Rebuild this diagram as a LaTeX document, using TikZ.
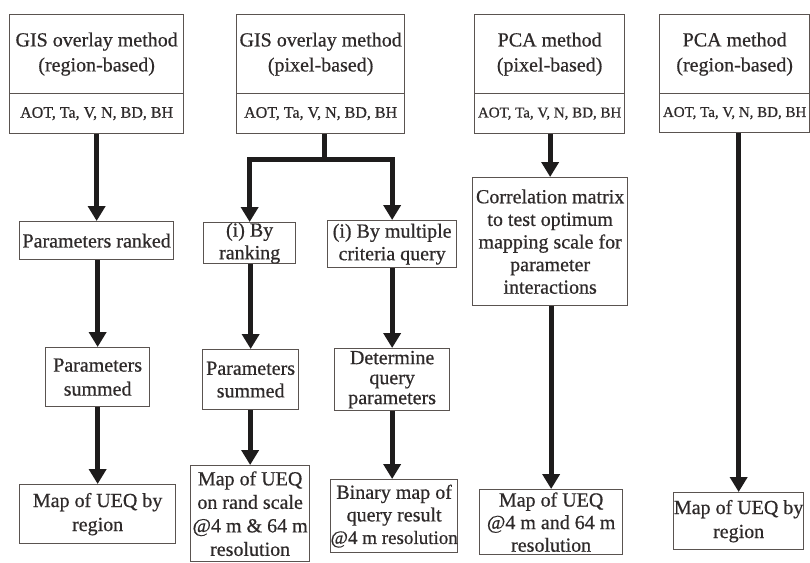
\documentclass[tikz,border=0pt]{standalone}
\usepackage{fontspec}
\setmainfont{Liberation Serif}[FakeBold=0.6]
\usetikzlibrary{arrows.meta}
\definecolor{boxc}{HTML}{5A5350}
\definecolor{txtc}{HTML}{2E2A2A}
\definecolor{arrc}{HTML}{1E1C1C}
\tikzset{
  bx/.style n args={4}{draw=boxc, line width=1.3pt, rectangle, inner sep=0pt,
    minimum width=#3pt-#1pt, minimum height=#4pt-#2pt, anchor=north west},
  lbl/.style={inner sep=0pt, align=center, text=txtc},
  ttl/.style={lbl, font=\fontsize{20}{25}\selectfont},
  bod/.style={lbl, font=\fontsize{20}{24}\selectfont},
  bodt/.style={lbl, font=\fontsize{20}{22.6}\selectfont},
  par/.style={lbl, font=\fontsize{16}{18}\selectfont},
  pars/.style={lbl, font=\fontsize{15}{18}\selectfont},
  lnk/.style={draw=arrc, line width=5pt},
  arr/.style={lnk, -{Triangle[width=17pt,length=15pt]}},
}
\begin{document}
\begin{tikzpicture}[x=1pt,y=-1pt]
\useasboundingbox (0,0) rectangle (810,562);
% column 1
\node[bx={9}{14}{183}{93}] (t1a) at (9,14) {};
\node[ttl] (t1a-t) at (t1a.center) {GIS overlay method\\(region-based)};
\node[bx={9}{93}{183}{133}] (t1b) at (9,93) {};
\node[par] (t1b-t) at (t1b.center) {AOT, Ta, V, N, BD, BH};
\node[bx={19}{221}{173}{259}] (r1) at (19,221) {};
\node[bod] (r1-t) at (r1.center) {Parameters ranked};
\node[bx={45}{347}{149}{406}] (s1) at (45,347) {};
\node[bod] (s1-t) at (s1.center) {Parameters\\summed};
\node[bx={19}{484}{175}{543}] (m1) at (19,484) {};
\node[bod] (m1-t) at (m1.center) {Map of UEQ by\\region};
% column 2
\node[bx={236}{14}{404}{93}] (t2a) at (236,14) {};
\node[ttl] (t2a-t) at (t2a.center) {GIS overlay method\\(pixel-based)};
\node[bx={236}{93}{404}{133}] (t2b) at (236,93) {};
\node[par] (t2b-t) at (t2b.center) {AOT, Ta, V, N, BD, BH};
\node[bx={203}{222}{295}{263}] (b2) at (203,222) {};
\node[bodt] (b2-t) at (b2.center) {(i) By\\ranking};
\node[bx={327}{220}{456}{267}] (c2) at (327,220) {};
\node[bodt] (c2-t) at (c2.center) {(i) By multiple\\criteria query};
\node[bx={202}{349}{298}{409}] (s2) at (202,349) {};
\node[bodt] (s2-t) at (s2.center) {Parameters\\summed};
\node[bx={334}{348}{449}{410}] (d2) at (334,348) {};
\node[lbl, font=\fontsize{20}{20}\selectfont] (d2-t) at (d2.center) {Determine\\query\\parameters};
\node[bx={190}{465}{309}{561}] (m2) at (190,465) {};
\node[lbl, font=\fontsize{20}{23.5}\selectfont] (m2-t) at (m2.center) {Map of UEQ\\on rand scale\\@4 m \& 64 m\\resolution};
\node[bx={330}{479}{457}{552}] (q2) at (330,479) {};
\node[bodt] (q2-t) at (q2.center) {Binary map of\\query result\\\makebox[0pt]{\fontsize{19}{22.6}\selectfont @4 m resolution}};
% column 3
\node[bx={474}{14}{624}{93}] (t3a) at (474,14) {};
\node[ttl] (t3a-t) at (t3a.center) {PCA method\\(pixel-based)};
\node[bx={474}{93}{624}{133}] (t3b) at (474,93) {};
\node[pars] (t3b-t) at (t3b.center) {AOT, Ta, V, N, BD, BH};
\node[bx={472}{177}{627}{305}] (cm) at (472,177) {};
\node[bodt] (cm-t) at (cm.center) {Correlation matrix\\to test optimum\\mapping scale for\\parameter\\interactions};
\node[bx={479}{489}{622}{554}] (m3) at (479,489) {};
\node[bodt] (m3-t) at (m3.center) {Map of UEQ\\@4 m and 64 m\\resolution};
% column 4
\node[bx={659}{14}{809}{93}] (t4a) at (659,14) {};
\node[ttl] (t4a-t) at (t4a.center) {PCA method\\(region-based)};
\node[bx={659}{93}{809}{132}] (t4b) at (659,93) {};
\node[pars] (t4b-t) at (t4b.center) {AOT, Ta, V, N, BD, BH};
\node[bx={673}{492}{803}{549}] (m4) at (673,492) {};
\node[bod] (m4-t) at (m4.center) {Map of UEQ by\\region};
% connectors
\draw[arr] (r1.north |- t1b.south) -- (r1.north);
\draw[arr] (s1.north |- r1.south) -- (s1.north);
\draw[arr] (m1.north |- s1.south) -- (m1.north);
\coordinate (br) at (324,159);
\draw[lnk] (br |- t2b.south) -- (br);
\draw[arr, line join=miter] (br) -| (b2.north);
\draw[arr, line join=miter] (br) -| (c2.north);
\draw[arr] (s2.north |- b2.south) -- (s2.north);
\draw[arr] (m2.north |- s2.south) -- (m2.north);
\draw[arr] (c2.south) -- (c2.south |- d2.north);
\draw[arr] (c2.south |- d2.south) -- (c2.south |- q2.north);
\draw[arr] (cm.north |- t3b.south) -- (cm.north);
\draw[arr] (m3.north |- cm.south) -- (m3.north);
\draw[arr] (m4.north |- t4b.south) -- (m4.north);
\end{tikzpicture}
\end{document}
